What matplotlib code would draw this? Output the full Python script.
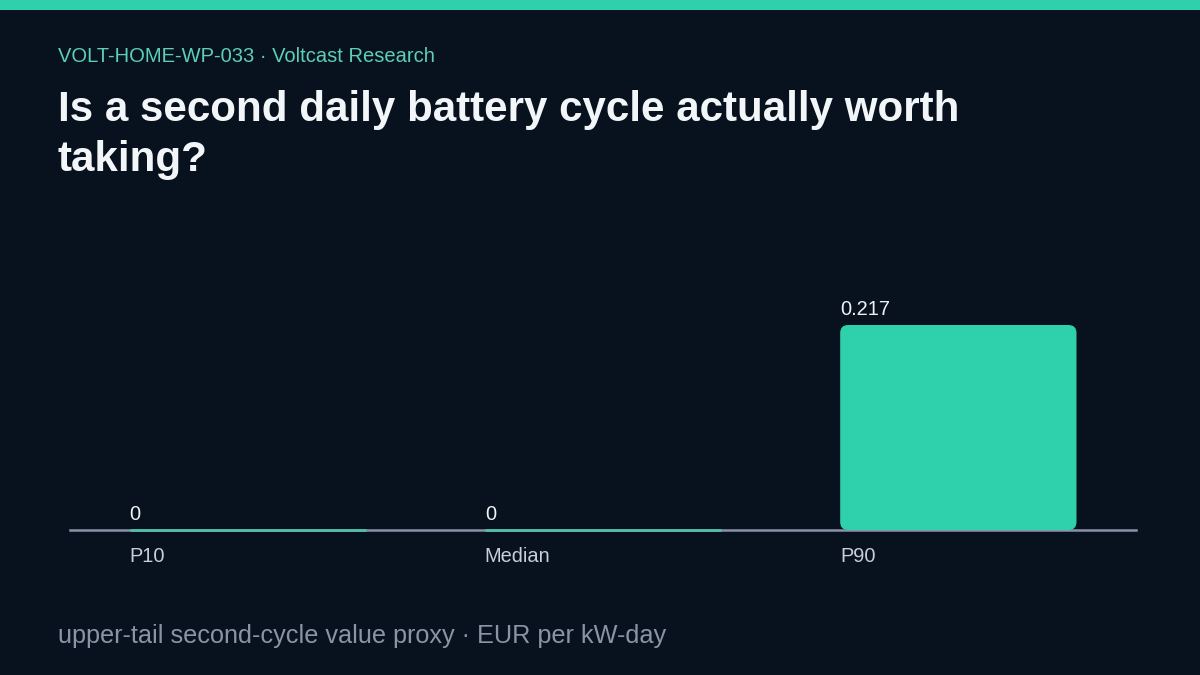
import matplotlib.pyplot as plt
from matplotlib.patches import FancyBboxPatch

# Data
categories = ["P10", "Median", "P90"]
values = [0.0, 0.0, 0.217]
value_labels = ["0", "0", "0.217"]

BG = "#08121e"
TEAL = "#2fd0ac"
AXIS = "#8a93a6"

plt.rcParams['font.family'] = ['Liberation Sans', 'DejaVu Sans']

fig = plt.figure(figsize=(12, 6.75), dpi=100)
fig.patch.set_facecolor(BG)

# top accent band
fig.patches.append(plt.Rectangle((0, 1 - 10 / 675), 1, 10 / 675, transform=fig.transFigure,
                                 facecolor=TEAL, edgecolor="none"))

# header / footer text
fig.text(58 / 1200, 1 - 57 / 675, "VOLT-HOME-WP-033 · Voltcast Research", color="#5ccfb6",
         fontsize=14.5, va="center", ha="left")
fig.text(58 / 1200, 1 - 135 / 675, "Is a second daily battery cycle actually worth\ntaking?",
         color="#f3f6f9", fontsize=30.3, fontweight="bold", va="center", ha="left", linespacing=1.33)
fig.text(58 / 1200, 1 - 636 / 675, "upper-tail second-cycle value proxy · EUR per kW-day",
         color="#8a94a6", fontsize=18.2, va="center", ha="left")

# axes region
ax_left, ax_right = 70 / 1200, 1136 / 1200
ax_bottom, ax_top = 1 - 530 / 675, 1 - 200 / 675
ax = fig.add_axes([ax_left, ax_bottom, ax_right - ax_left, ax_top - ax_bottom])
ax.set_facecolor(BG)
ax.set_xlim(-0.5, 2.5)
ymax = 0.217 * 330 / 205
ax.set_ylim(0, ymax)

ax.axhline(0, color=AXIS, linewidth=1.8, zorder=2, clip_on=False)

bar_w = 0.665
x_per_px = 3 / 1066
y_per_px = ymax / 330
for i, (v, lab) in enumerate(zip(values, value_labels)):
    x0 = i - bar_w / 2
    if v > 0:
        patch = FancyBboxPatch((x0, 0), bar_w, v,
                               boxstyle=f"round,pad=0,rounding_size={8 * x_per_px}",
                               mutation_aspect=y_per_px / x_per_px,
                               facecolor=TEAL, edgecolor="none", zorder=3)
        ax.add_patch(patch)
    else:
        ax.hlines(0, x0, x0 + bar_w, color="#4fbfa8", linewidth=2, zorder=4, clip_on=False)
    ax.text(x0, v + 6 * y_per_px, lab, color="#eef1f5", fontsize=14.4,
            ha="left", va="bottom", zorder=5)
    ax.text(x0, -17 * y_per_px, categories[i], color="#c9ced8", fontsize=14.4,
            ha="left", va="top", clip_on=False)

for s in ax.spines.values():
    s.set_visible(False)
ax.set_xticks([])
ax.set_yticks([])

fig.savefig("out.png", dpi=100, facecolor=BG)
